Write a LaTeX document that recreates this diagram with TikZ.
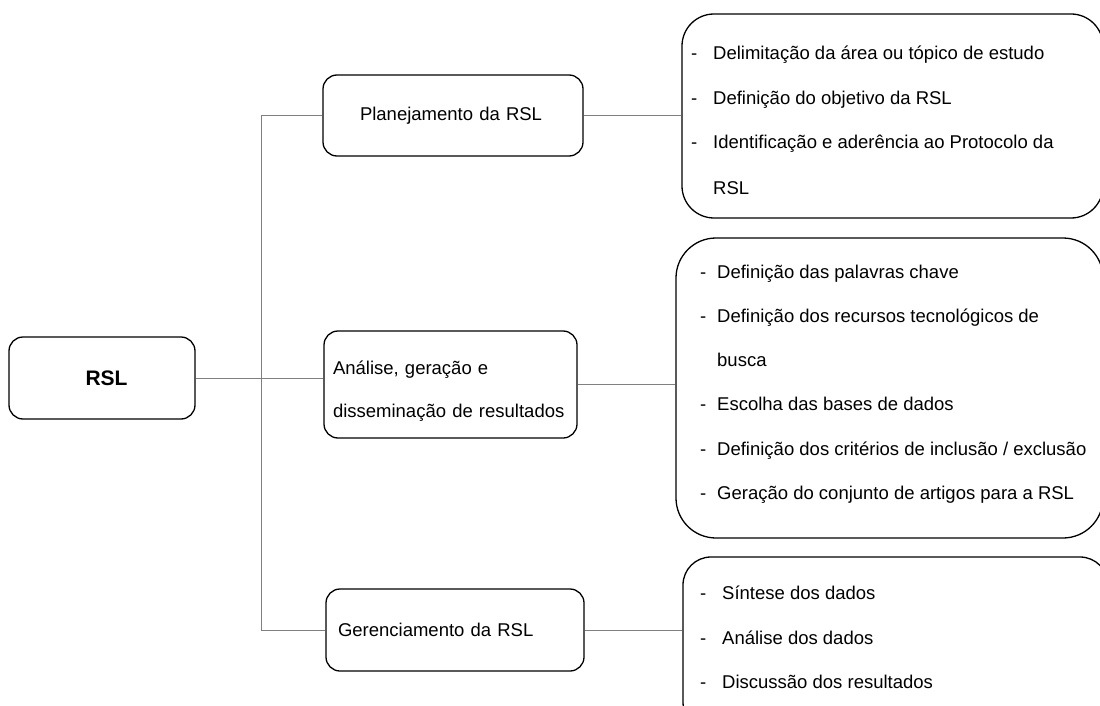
\documentclass[tikz,border=0pt]{standalone}
\usepackage{fontspec}
\setmainfont{Liberation Sans}
\newcommand\dashitem[2]{\makebox[#1][l]{-}#2}
\begin{document}
\begin{tikzpicture}[x=1pt,y=-1pt,
  box/.style={draw=black, line width=1.3pt, rounded corners=14pt, inner sep=0pt},
  lbox/.style={box, align=left, inner ysep=0pt, font=\fontsize{18.5}{43}\selectfont},
  bigbox/.style={draw=black, line width=1.3pt, inner sep=0pt},
  conn/.style={draw=black!50, line width=1pt},
  txt/.style={font=\fontsize{18.5}{22}\selectfont, inner sep=0pt, anchor=base west}]
\useasboundingbox (0,0) rectangle (1100,706);

% left column
\node[box, minimum width=186pt, minimum height=82pt,
      font=\bfseries\fontsize{21}{25}\selectfont] (rsl) at (102,378) {\hspace*{9pt}RSL};

% middle column
\node[lbox, minimum width=260pt, minimum height=81pt, inner xsep=37pt, text width=186pt]
  (pla) at (453,115.5) {Planejamento da RSL};
\node[lbox, minimum width=253pt, minimum height=107pt, inner xsep=9pt, text width=235pt]
  (ana) at (450.5,384.5) {\rule{0pt}{27pt}Análise, geração e\\disseminação de resultados};
\node[lbox, minimum width=258pt, minimum height=82pt, inner xsep=12pt, text width=234pt]
  (ger) at (455,630) {Gerenciamento da RSL};

% right column
\node[bigbox, rounded corners=32pt, minimum width=421pt, minimum height=204pt] (r1) at (892.5,116) {};
\node[bigbox, rounded corners=40pt, minimum width=427pt, minimum height=300pt] (r2) at (889.5,388) {};
\node[bigbox, rounded corners=28pt, minimum width=425pt, minimum height=173pt] (r3) at (895.5,643.5) {};

\node[txt] (r1a) at (691,60)  {\dashitem{22pt}{Delimitação da área ou tópico de estudo}};
\node[txt] (r1b) at (691,105) {\dashitem{22pt}{Definição do objetivo da RSL}};
\node[txt] (r1c) at (691,149) {\dashitem{22pt}{Identificação e aderência ao Protocolo da}};
\node[txt] (r1d) at (713,194) {RSL};

\node[txt] (r2a) at (700,278) {\dashitem{17pt}{Definição das palavras chave}};
\node[txt] (r2b) at (700,322) {\dashitem{17pt}{Definição dos recursos tecnológicos de}};
\node[txt] (r2c) at (717,366) {busca};
\node[txt] (r2d) at (700,410) {\dashitem{17pt}{Escolha das bases de dados}};
\node[txt] (r2e) at (700,455) {\dashitem{17pt}{Definição dos critérios de inclusão / exclusão}};
\node[txt] (r2f) at (700,499) {\dashitem{17pt}{Geração do conjunto de artigos para a RSL}};

\node[txt] (r3a) at (700,599) {\dashitem{22pt}{Síntese dos dados}};
\node[txt] (r3b) at (700,644) {\dashitem{22pt}{Análise dos dados}};
\node[txt] (r3c) at (700,688) {\dashitem{22pt}{Discussão dos resultados}};

% connectors
\coordinate (spine) at (261,0);
\draw[conn] (rsl.east) -- (rsl.east -| ana.west);
\draw[conn] (pla.west) -- (pla.west -| spine) -- (ger.west -| spine) -- (ger.west);
\draw[conn] (pla.east) -- (pla.east -| r1.west);
\draw[conn] (ana.east) -- (ana.east -| r2.west);
\draw[conn] (ger.east) -- (ger.east -| r3.west);
\end{tikzpicture}
\end{document}
